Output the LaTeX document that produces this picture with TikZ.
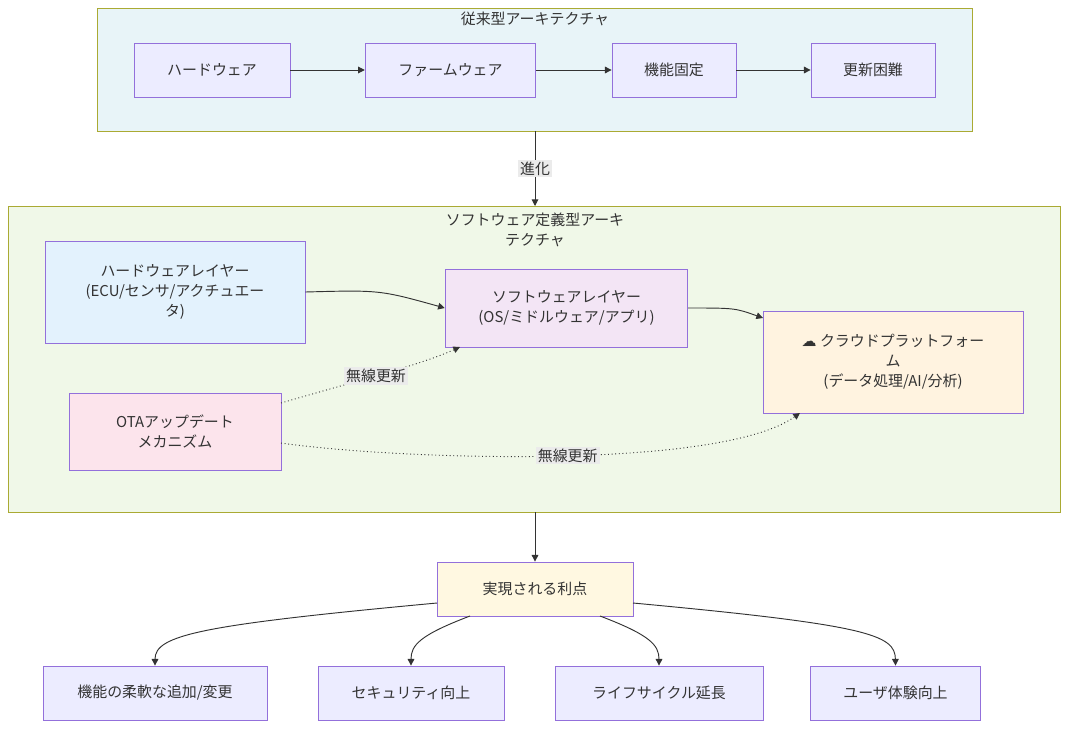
\documentclass[tikz,border=0pt]{standalone}
\usepackage{fontspec}
\setmainfont{Noto Sans CJK JP}
\newfontfamily\emj{DejaVu Sans}
\usetikzlibrary{arrows.meta}
\definecolor{nfill}{HTML}{ECECFF}
\definecolor{nstroke}{HTML}{9370DB}
\definecolor{cstroke}{HTML}{AAAA33}
\tikzset{
 x=0.75pt,y=-0.75pt,
 every node/.style={font=\fontsize{11.2}{15}\selectfont,text=black!80,align=center},
 box/.style={draw=nstroke,fill=nfill,line width=0.6pt},
 clus/.style={draw=cstroke,line width=0.6pt},
 arr/.style={draw=black!80,line width=0.7pt,-{Triangle[length=5pt,width=5pt]}},
 dot/.style={arr,dotted},
 lab/.style={fill=black!8,inner sep=1.5pt,font=\fontsize{11.2}{12}\selectfont}
}
\begin{document}
\begin{tikzpicture}
\useasboundingbox (0,0) rectangle (1069,728);
\fill[white] (0,0) rectangle (1069,728);
% cluster 1
\draw[clus,fill={rgb,255:red,232;green,244;blue,248}] (97,8) rectangle (972,131);
\node (t1) at (535,19) {従来型アーキテクチャ};
\node[box,minimum width=117pt,minimum height=40.5pt] (a1) at (212,70) {ハードウェア};
\node[box,minimum width=128pt,minimum height=40.5pt] (a2) at (450.5,70) {ファームウェア};
\node[box,minimum width=93pt,minimum height=40.5pt] (a3) at (674,70) {機能固定};
\node[box,minimum width=93pt,minimum height=40.5pt] (a4) at (873,70) {更新困難};
\draw[arr] (a1) -- (a2);
\draw[arr] (a2) -- (a3);
\draw[arr] (a3) -- (a4);
\coordinate (c1b) at (535,131);
\coordinate (c2t) at (535,206);
\draw[arr] (c1b) -- node[lab] {進化} (c2t);
% cluster 2
\draw[clus,fill={rgb,255:red,240;green,248;blue,232}] (8,206) rectangle (1060,512);
\node (t2) at (535,230) {ソフトウェア定義型アーキ\\テクチャ};
\node[draw=nstroke,fill={rgb,255:red,227;green,242;blue,253},line width=0.6pt,minimum width=195pt,minimum height=76.5pt] (hw) at (175,292) {ハードウェアレイヤー\\(ECU/センサ/アクチュエー\\タ)};
\node[draw=nstroke,fill={rgb,255:red,243;green,229;blue,245},line width=0.6pt,minimum width=182pt,minimum height=58.5pt] (sw) at (566.5,308) {ソフトウェアレイヤー\\(OS/ミドルウェア/アプリ)};
\node[draw=nstroke,fill={rgb,255:red,255;green,243;blue,224},line width=0.6pt,minimum width=195pt,minimum height=76.5pt] (cl) at (893,362) {{\emj ☁} クラウドプラットフォー\\ム\\(データ処理/AI/分析)};
\node[draw=nstroke,fill={rgb,255:red,252;green,228;blue,236},line width=0.6pt,minimum width=159pt,minimum height=57.75pt] (ota) at (175,431.5) {OTAアップデート\\メカニズム};
\draw[arr] (hw.east) .. controls (380,290) .. (sw.west);
\draw[arr] (688,308) .. controls (735,308) .. (763,318);
\draw[dot] (281,403) .. controls (360,380) and (420,365) .. (460,347) node[pos=0.45,lab] {無線更新};
\draw[dot] (281,443) .. controls (400,460) and (720,470) .. (800,413) node[pos=0.52,lab] {無線更新};
% benefits
\node[draw=nstroke,fill={rgb,255:red,255;green,248;blue,225},line width=0.6pt,minimum width=147pt,minimum height=40.5pt] (bn) at (535,589) {実現される利点};
\coordinate (c2b) at (535,512);
\draw[arr] (c2b) -- (bn);
\node[box,minimum width=168pt,minimum height=40.5pt] (b1) at (155,693) {機能の柔軟な追加/変更};
\node[box,minimum width=139.5pt,minimum height=40.5pt] (b2) at (411,693) {セキュリティ向上};
\node[box,minimum width=156pt,minimum height=40.5pt] (b3) at (659,693) {ライフサイクル延長};
\node[box,minimum width=128pt,minimum height=40.5pt] (b4) at (895.5,693) {ユーザ体験向上};
\draw[arr] (437,603) .. controls (200,625) and (155,635) .. (b1.north);
\draw[arr] (470,616) .. controls (420,635) and (411,645) .. (b2.north);
\draw[arr] (600,616) .. controls (650,635) and (659,645) .. (b3.north);
\draw[arr] (633,603) .. controls (870,625) and (895,635) .. (b4.north);
\end{tikzpicture}
\end{document}
